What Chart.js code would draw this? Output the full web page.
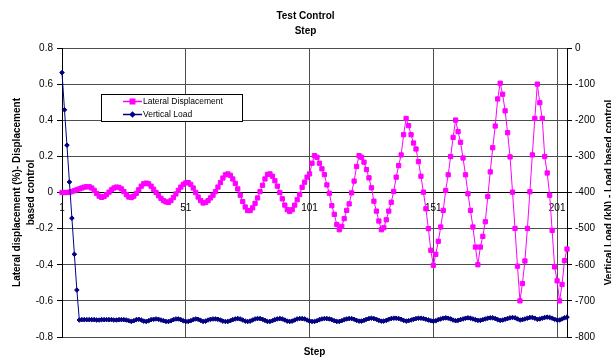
<!DOCTYPE html>
<html><head><meta charset="utf-8">
<script src="https://cdn.jsdelivr.net/npm/chart.js@4/dist/chart.umd.min.js"></script>
<style>html,body{margin:0;padding:0;background:#fff;}#wrap{width:611px;height:360px;position:relative;}</style>
</head><body><div id="wrap"><canvas id="c" width="611" height="360"></canvas></div>
<script>
// ---- data ----
const categories = Array.from({length: 205}, (_, i) => String(i + 1));
const xTickLabels = ['1', '51', '101', '151', '201'];
const leftTicks = [-0.8, -0.6, -0.4, -0.2, 0, 0.2, 0.4, 0.6, 0.8];
const rightTicks = [-800, -700, -600, -500, -400, -300, -200, -100, 0];
const seriesNames = ['Lateral Displacement', 'Vertical Load'];
const chartTitle = 'Test Control';
const xTitle = 'Step';
const leftTitle = ['Lateral displacement (%)- Displacement', 'based control'];
const rightTitle = 'Vertical Load (kN) - Load based control';

const lateral = [
0,0,0,0.002,0.005,0.01,0.015,0.02,0.025,0.03,
0.032,0.032,0.025,0.012,-0.005,-0.02,-0.027,-0.022,-0.012,0.002,
0.015,0.025,0.03,0.028,0.02,0.005,-0.012,-0.025,-0.028,-0.02,
-0.005,0.015,0.035,0.048,0.052,0.048,0.035,0.018,0,-0.018,
-0.033,-0.045,-0.052,-0.055,-0.045,-0.028,-0.008,0.012,0.03,0.045,
0.053,0.055,0.045,0.025,0,-0.025,-0.045,-0.058,-0.055,-0.045,
-0.03,-0.015,0.005,0.03,0.055,0.08,0.098,0.103,0.095,0.075,
0.05,0.02,-0.015,-0.05,-0.08,-0.1,-0.1,-0.085,-0.06,-0.03,
0.005,0.04,0.075,0.1,0.103,0.09,0.065,0.035,0,-0.035,
-0.07,-0.095,-0.105,-0.095,-0.07,-0.04,-0.011,0.029,0.057,0.085,
0.103,0.162,0.204,0.195,0.162,0.131,0.099,0.042,-0.004,-0.073,
-0.121,-0.177,-0.206,-0.188,-0.145,-0.099,-0.063,-0.002,0.063,0.144,
0.204,0.195,0.168,0.127,0.081,0.026,-0.048,-0.103,-0.158,-0.206,
-0.195,-0.151,-0.103,-0.054,0.006,0.085,0.149,0.208,0.32,0.41,
0.37,0.32,0.274,0.241,0.171,0.09,0.002,-0.09,-0.2,-0.32,
-0.403,-0.342,-0.27,-0.191,-0.099,0.011,0.098,0.199,0.305,0.401,
0.337,0.278,0.191,0.098,-0.007,-0.099,-0.191,-0.302,-0.4,-0.302,
-0.243,-0.162,-0.022,0.114,0.248,0.368,0.518,0.605,0.544,0.452,
0.331,0.197,0.002,-0.199,-0.408,-0.6,-0.504,-0.379,-0.199,0.004,
0.208,0.41,0.6,0.497,0.41,0.199,0.108,-0.015,-0.21,-0.412,
-0.489,-0.6,-0.509,-0.377,-0.313
];

const verticalLoad = [
-68,-171,-269,-371,-471,-571,-670,-753,
-752,-752,-752,-752,-752,-752,-753,-753,-752,-752,-752,-752,-752,-753,-753,-752,-752,-752,-753,
-755,-757,-755,-752,-751,-753,-756,-757,-755,-752,
-751,-750,-751,-753,-755,-757,-757,-755,-752,-750,
-750,-752,-755,-757,-757,-755,-752,-750,-751,-754,
-757,-756,-753,-751,-750,-750,-751,-753,-756,-757,
-757,-755,-752,-750,-749,-750,-753,-756,-757,-756,
-753,-750,-749,-749,-751,-754,-757,-757,-755,-752,
-750,-749,-750,-753,-756,-757,-756,-753,-750,-749,
-749,-750,-753,-756,-757,-757,-755,-752,-750,-749,
-749,-750,-752,-755,-757,-757,-755,-752,-750,-749,
-749,-751,-754,-756,-756,-754,-751,-749,-748,-749,
-751,-754,-756,-756,-754,-751,-749,-748,-748,-749,
-751,-754,-756,-755,-753,-751,-749,-748,-748,-749,
-751,-753,-755,-756,-755,-752,-750,-748,-747,-748,
-750,-753,-755,-754,-752,-750,-748,-747,-748,-750,
-752,-754,-754,-752,-750,-748,-747,-747,-749,-752,
-754,-753,-751,-749,-747,-746,-747,-750,-753,-752,
-750,-748,-746,-746,-748,-751,-750,-748,-746,-745,
-746,-748,-751,-753,-753,-750,-747,-745
];

// ---- styles ----
const PINK = '#FF00FF';
const NAVY = '#000080';
const GRID = '#4d4d4d';
const FONT = '"Liberation Sans", Arial, Helvetica, sans-serif';
Chart.defaults.font.family = FONT;
Chart.defaults.color = '#000';

const overlay = {
  id: 'overlay',
  afterDraw(chart) {
    const ctx = chart.ctx;
    ctx.save();
    // legend box
    const bx = 101.5, by = 94.5, bw = 141, bh = 27;
    ctx.fillStyle = '#fff';
    ctx.fillRect(bx, by, bw, bh);
    ctx.strokeStyle = '#000';
    ctx.lineWidth = 1;
    ctx.strokeRect(bx, by, bw, bh);
    const rows = [
      {label: seriesNames[0], color: PINK, y: 101.5, shape: 'square'},
      {label: seriesNames[1], color: NAVY, y: 114.5, shape: 'diamond'}
    ];
    rows.forEach(r => {
      ctx.strokeStyle = r.color;
      ctx.fillStyle = r.color;
      ctx.lineWidth = 1.5;
      ctx.beginPath();
      ctx.moveTo(123, r.y);
      ctx.lineTo(142, r.y);
      ctx.stroke();
      const cx = 132.5;
      if (r.shape === 'square') {
        ctx.fillRect(cx - 3, r.y - 3, 6, 6);
      } else {
        ctx.beginPath();
        ctx.moveTo(cx, r.y - 3.2);
        ctx.lineTo(cx + 3.2, r.y);
        ctx.lineTo(cx, r.y + 3.2);
        ctx.lineTo(cx - 3.2, r.y);
        ctx.closePath();
        ctx.fill();
      }
      ctx.fillStyle = '#000';
      ctx.font = '8.5px ' + FONT;
      ctx.textAlign = 'left';
      ctx.textBaseline = 'middle';
      ctx.fillText(r.label, 143, r.y + 0.5);
    });
    // right axis title (reads bottom to top)
    const ya = chart.scales.y1;
    ctx.translate(609.5, (ya.top + ya.bottom) / 2);
    ctx.rotate(-Math.PI / 2);
    ctx.fillStyle = '#000';
    ctx.font = 'bold 10px ' + FONT;
    ctx.textAlign = 'center';
    ctx.textBaseline = 'middle';
    ctx.fillText(rightTitle, 0, 0);
    ctx.restore();
  }
};

new Chart(document.getElementById('c'), {
  type: 'line',
  data: {
    labels: categories,
    datasets: [
      {
        label: seriesNames[0], data: lateral, yAxisID: 'y', xAxisID: 'x',
        borderColor: PINK, backgroundColor: PINK, borderWidth: 1,
        pointStyle: 'rect', pointRadius: 3, pointBorderWidth: 1,
        pointBackgroundColor: PINK, pointBorderColor: PINK,
        tension: 0, order: 1
      },
      {
        label: seriesNames[1], data: verticalLoad, yAxisID: 'y1', xAxisID: 'x',
        borderColor: NAVY, backgroundColor: NAVY, borderWidth: 1,
        pointStyle: 'rectRot', pointRadius: 2.3, pointBorderWidth: 1,
        pointBackgroundColor: NAVY, pointBorderColor: NAVY,
        tension: 0, order: 0
      }
    ]
  },
  options: {
    responsive: false,
    animation: false,
    devicePixelRatio: 1,
    layout: {padding: 0},
    plugins: {
      legend: {display: false},
      tooltip: {enabled: false},
      title: {display: true, text: chartTitle, color: '#000',
        font: {size: 10, weight: 'bold'}, padding: {top: 10, bottom: 3}},
      subtitle: {display: true, text: xTitle, color: '#000',
        font: {size: 10, weight: 'bold'}, padding: {top: 0, bottom: 11}}
    },
    scales: {
      x: {
        type: 'category',
        position: {y: 0},
        offset: false,
        grid: {color: GRID, lineWidth: 1, drawTicks: false},
        border: {color: '#000', width: 1},
        ticks: {
          autoSkip: false, maxRotation: 0, minRotation: 0, padding: 10,
          font: {size: 10}, color: '#000',
          callback: function (v, i) {
            const lab = this.getLabelForValue(v);
            return xTickLabels.includes(lab) ? lab : null;
          }
        }
      },
      x2: {
        type: 'linear', position: 'bottom', min: 0, max: 1,
        grid: {display: false, drawTicks: false},
        border: {display: false},
        ticks: {display: false},
        title: {display: true, text: xTitle, color: '#000',
          font: {size: 10, weight: 'bold'}, padding: {top: 0, bottom: 2}},
        afterFit(s) { s.height = 23; }
      },
      y: {
        type: 'linear', position: 'left', min: -0.8, max: 0.8,
        afterBuildTicks(s) { s.ticks = leftTicks.map(v => ({value: v})); },
        ticks: {
          font: {size: 10}, color: '#000', padding: 4,
          callback: v => (Math.abs(v) < 1e-9 ? '0' : String(Math.round(v * 10) / 10))
        },
        grid: {
          color: c => (c.tick && Math.abs(c.tick.value) < 1e-9 ? '#000' : GRID),
          tickLength: 5, tickColor: '#000', lineWidth: 1
        },
        border: {color: '#000', width: 1},
        title: {display: true, text: leftTitle, color: '#000',
          font: {size: 10, weight: 'bold', lineHeight: 1.35}, padding: {top: 10.5, bottom: 0}},
        afterFit(s) { s.width = 62; }
      },
      y1: {
        type: 'linear', position: 'right', min: -800, max: 0,
        afterBuildTicks(s) { s.ticks = rightTicks.map(v => ({value: v})); },
        ticks: {font: {size: 10}, color: '#000', padding: 3},
        grid: {drawOnChartArea: false, tickLength: 5, tickColor: '#000'},
        border: {color: '#000', width: 1},
        afterFit(s) { s.width = 44; }
      }
    }
  },
  plugins: [overlay]
});
</script>
</body></html>
